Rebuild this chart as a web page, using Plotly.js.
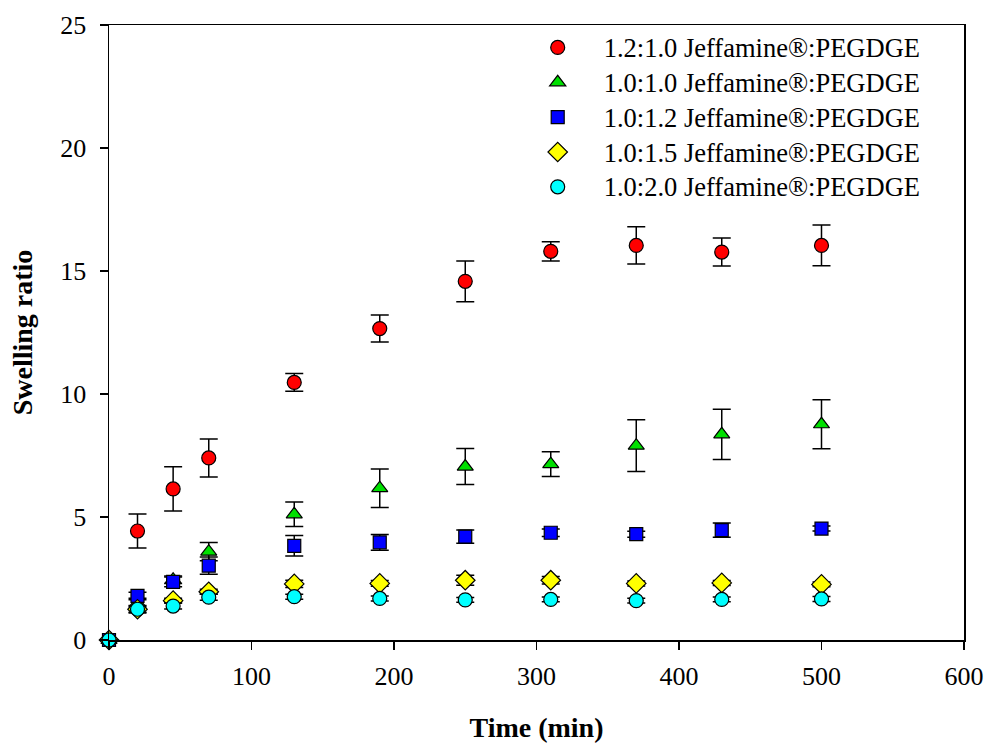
<!DOCTYPE html>
<html>
<head>
<meta charset="utf-8">
<script src="https://cdn.plot.ly/plotly-3.0.1.min.js"></script>
<style>html,body{margin:0;padding:0;background:#fff;}#chart{width:986px;height:743px;}</style>
</head>
<body>
<div id="chart"></div>
<script>
const timeMin = [0, 20, 45, 70, 130, 190, 250, 310, 370, 430, 500];

const names = [
  "1.2:1.0 Jeffamine®:PEGDGE",
  "1.0:1.0 Jeffamine®:PEGDGE",
  "1.0:1.2 Jeffamine®:PEGDGE",
  "1.0:1.5 Jeffamine®:PEGDGE",
  "1.0:2.0 Jeffamine®:PEGDGE"
];

const ratio12_10 = [0, 4.43, 6.14, 7.40, 10.47, 12.66, 14.58, 15.80, 16.04, 15.77, 16.04];
const err12_10   = [0, 0.69, 0.90, 0.77, 0.36, 0.55, 0.83, 0.39, 0.76, 0.57, 0.83];

const ratio10_10 = [0, 1.50, 2.45, 3.59, 5.11, 6.17, 7.05, 7.15, 7.90, 8.36, 8.77];
const err10_10   = [0, 0.20, 0.15, 0.37, 0.50, 0.78, 0.73, 0.50, 1.05, 1.02, 1.00];

const ratio10_12 = [0, 1.79, 2.36, 3.02, 3.83, 3.97, 4.20, 4.36, 4.30, 4.47, 4.53];
const err10_12   = [0, 0.15, 0.20, 0.35, 0.42, 0.32, 0.27, 0.15, 0.12, 0.29, 0.10];

const ratio10_15 = [0, 1.25, 1.60, 1.96, 2.28, 2.30, 2.43, 2.43, 2.30, 2.32, 2.26];
const err10_15   = [0, 0.15, 0.10, 0.10, 0.15, 0.12, 0.20, 0.15, 0.10, 0.10, 0.10];

const ratio10_20 = [0, 1.25, 1.38, 1.74, 1.76, 1.69, 1.63, 1.65, 1.60, 1.65, 1.67];
const err10_20   = [0, 0.12, 0.12, 0.12, 0.10, 0.10, 0.10, 0.10, 0.10, 0.10, 0.10];

const series = [ratio12_10, ratio10_10, ratio10_12, ratio10_15, ratio10_20];
const errs = [err12_10, err10_10, err10_12, err10_15, err10_20];
const colors = ["#ff0000", "#00e000", "#0000ff", "#ffff00", "#00ffff"];
const symbols = ["circle", "triangle-up", "square", "diamond", "circle"];
const sizes = [14, 14, 13, 15, 14];

const traces = series.map((ys, i) => ({
  x: timeMin,
  y: ys,
  name: '<span style="font-size:26.5px">' + names[i] + '</span>',
  type: "scatter",
  mode: "markers",
  cliponaxis: false,
  marker: {color: colors[i], symbol: symbols[i], size: sizes[i], line: {color: "#000", width: 1.2}},
  error_y: {type: "data", array: errs[i], visible: true, color: "#000", thickness: 1.5, width: 9}
}));

const font = {family: "'Liberation Serif', 'Times New Roman', serif", color: "#000"};

const layout = {
  width: 986, height: 743,
  margin: {l: 109, r: 22, t: 25, b: 103},
  paper_bgcolor: "#fff", plot_bgcolor: "#fff",
  font: Object.assign({size: 26}, font),
  showlegend: true,
  legend: {
    x: 0.471, y: 1.0, xanchor: "left", yanchor: "top",
    font: Object.assign({size: 24.5}, font),
    bgcolor: "rgba(0,0,0,0)",
    tracegroupgap: 0,
    itemwidth: 82
  },
  xaxis: {
    range: [0, 600], tickvals: [0, 100, 200, 300, 400, 500, 600],
    showgrid: false, zeroline: false,
    showline: true, linecolor: "#000", linewidth: 1.5, mirror: true,
    ticks: "outside", ticklen: 8, tickwidth: 1.5, tickcolor: "#000",
    ticklabelstandoff: 4,
    tickfont: Object.assign({size: 26}, font),
    title: {text: "<b>Time (min)</b>", font: Object.assign({size: 28}, font), standoff: 38}
  },
  yaxis: {
    range: [0, 25], tickvals: [0, 5, 10, 15, 20, 25],
    showgrid: false, zeroline: false,
    showline: true, linecolor: "#000", linewidth: 1.5, mirror: true,
    ticks: "outside", ticklen: 8, tickwidth: 1.5, tickcolor: "#000",
    ticklabelstandoff: 8,
    tickfont: Object.assign({size: 26}, font),
    title: {text: "<b>Swelling ratio</b>", font: Object.assign({size: 28}, font), standoff: 19}
  }
};

Plotly.newPlot("chart", traces, layout, {displayModeBar: false, staticPlot: true});
</script>
</body>
</html>
